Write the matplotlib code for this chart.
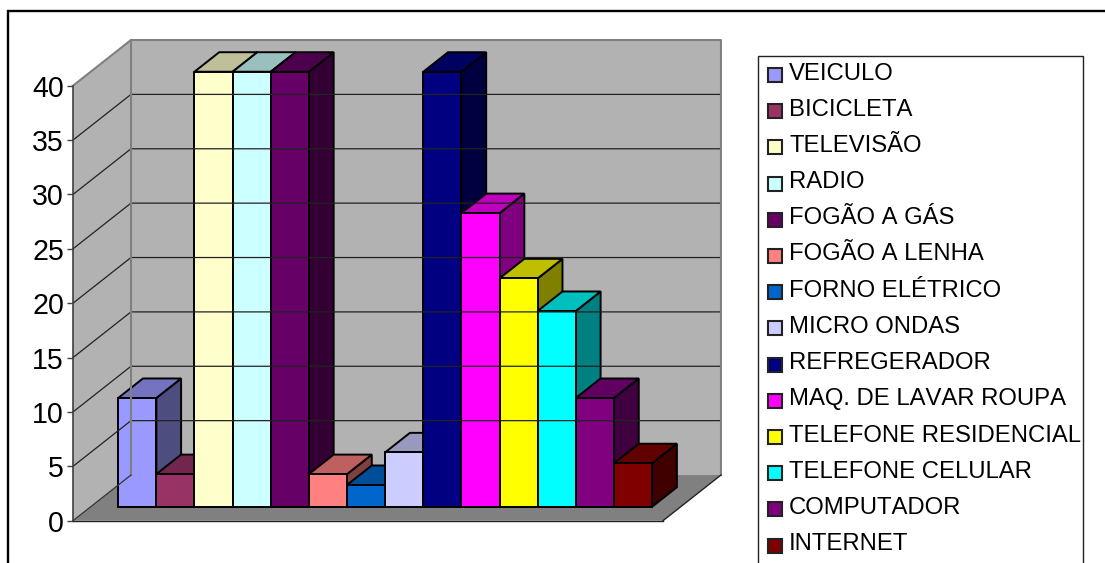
import matplotlib
matplotlib.use('Agg')
from matplotlib import pyplot as plt
from matplotlib.patches import Polygon, Rectangle

plt.rcParams['font.family'] = ['Liberation Sans', 'DejaVu Sans']
# Letter pairs keep their full advance, as in "LAVAR"
plt.rcParams['text.kerning_factor'] = 30

items = ['VEICULO', 'BICICLETA', 'TELEVISÃO', 'RADIO', 'FOGÃO A GÁS', 'FOGÃO A LENHA',
         'FORNO ELÉTRICO', 'MICRO ONDAS', 'REFREGERADOR', 'MAQ. DE LAVAR ROUPA',
         'TELEFONE RESIDENCIAL', 'TELEFONE CELULAR', 'COMPUTADOR', 'INTERNET']
values = [10, 3, 40, 40, 40, 3, 2, 5, 40, 27, 21, 18, 10, 4]
colors = ['#9999FF', '#993366', '#FFFFCC', '#CCFFFF', '#660066', '#FF8080', '#0066CC',
          '#CCCCFF', '#000080', '#FF00FF', '#FFFF00', '#00FFFF', '#800080', '#800000']
y_ticks = [0, 5, 10, 15, 20, 25, 30, 35, 40]

W, H = 1105, 563

# oblique projection: one unit of depth moves a point this far in data units
DEPTH_X = 1.52
DEPTH_Y = 4.2
BAR_FRONT = 0.306
BAR_BACK = 0.733


def project(x, y, z):
    return (x + z * DEPTH_X, y + z * DEPTH_Y)


def shade(color, factor):
    rgb = matplotlib.colors.to_rgb(color)
    return tuple(c * factor for c in rgb)


def face(ax, points, color, edge='none', lw=0.0):
    ax.add_patch(Polygon([project(*p) for p in points], closed=True, facecolor=color,
                         edgecolor=edge, linewidth=lw, clip_on=False, joinstyle='miter'))


def draw_walls(ax, x0, x1, y0, y1):
    face(ax, [(x0, y0, 0), (x0, y0, 1), (x1, y0, 1), (x1, y0, 0)], '#808080')
    face(ax, [(x0, y0, 1), (x1, y0, 1), (x1, y1, 1), (x0, y1, 1)], '#B2B2B2')
    face(ax, [(x0, y0, 0), (x0, y0, 1), (x0, y1, 1), (x0, y1, 0)], '#B2B2B2')

    # Gridlines run along the side wall and then across the back wall
    for v in y_ticks[1:-1]:
        pts = [project(x0, v, 0), project(x0, v, 1), project(x1, v, 1)]
        ax.plot(*zip(*pts), color='#222222', lw=0.9, clip_on=False)

    # Wall outline
    grey = [project(x0, y1, 0), project(x0, y1, 1), project(x1, y1, 1), project(x1, y0, 1)]
    ax.plot(*zip(*grey), color='#808080', lw=1.5, clip_on=False)
    back = [project(x0, y0, 1), project(x0, y1, 1)]
    ax.plot(*zip(*back), color='#808080', lw=1.5, clip_on=False)
    floor = [project(x0, y0, 0), project(x0, y0, 1)]
    ax.plot(*zip(*floor), color='#333333', lw=0.9, clip_on=False)
    floor = [project(x1, y0, 0), project(x1, y0, 1)]
    ax.plot(*zip(*floor), color='#222222', lw=1.0, clip_on=False)


def draw_bar(ax, i, value, color):
    l, r = i, i + 1
    a, b = BAR_FRONT, BAR_BACK
    face(ax, [(r, 0, a), (r, 0, b), (r, value, b), (r, value, a)], shade(color, 0.5), 'black', 1.4)
    face(ax, [(l, value, a), (l, value, b), (r, value, b), (r, value, a)], shade(color, 0.75), 'black', 1.4)
    face(ax, [(l, 0, a), (r, 0, a), (r, value, a), (l, value, a)], color, 'black', 1.4)


def draw_legend(ax):
    ax.add_patch(Rectangle((758, 56), 325, 540, facecolor='white', edgecolor='#222222', lw=1.0))
    for i, (name, color) in enumerate(zip(items, colors)):
        row = 73.5 + i * 36.2
        ax.add_patch(Rectangle((767.5, row - 5.5), 14, 14, facecolor=color, edgecolor='#222222', lw=1.5))
        ax.text(789, row, name, fontsize=17.2, va='center', ha='left', color='black')


def main():
    fig = plt.figure(figsize=(W / 100, H / 100), dpi=100, facecolor='white')

    # Page overlay in pixel units for the frame and the legend
    page = fig.add_axes([0, 0, 1, 1])
    page.set_xlim(0, W)
    page.set_ylim(H, 0)
    page.axis('off')
    page.add_patch(Rectangle((8, 11), 1200, 700, facecolor='white', edgecolor='black', lw=1.7))
    draw_legend(page)

    ax = fig.add_axes([73 / W, (H - 520.7) / H, 590 / W, 435 / H])
    ax.patch.set_alpha(0)
    ax.set_xlim(-0.72, 14.75)
    ax.set_ylim(0, 40)
    draw_walls(ax, -0.72, 14.75, 0, 40)

    # Bars go left to right so each one covers the side of its neighbour
    for i, (value, color) in enumerate(zip(values, colors)):
        draw_bar(ax, i, value, color)

    for side in ['top', 'right']:
        ax.spines[side].set_visible(False)
    ax.spines['left'].set_color('#404040')
    ax.spines['left'].set_linewidth(1.2)
    ax.spines['bottom'].set_color('#222222')
    ax.spines['bottom'].set_linewidth(1.0)
    ax.set_xticks([])
    ax.set_yticks(y_ticks)
    ax.tick_params(axis='y', length=4, width=1.0, color='#404040', labelsize=20.6, pad=2.5)

    fig.savefig('out.png', dpi=100)


if __name__ == '__main__':
    main()
